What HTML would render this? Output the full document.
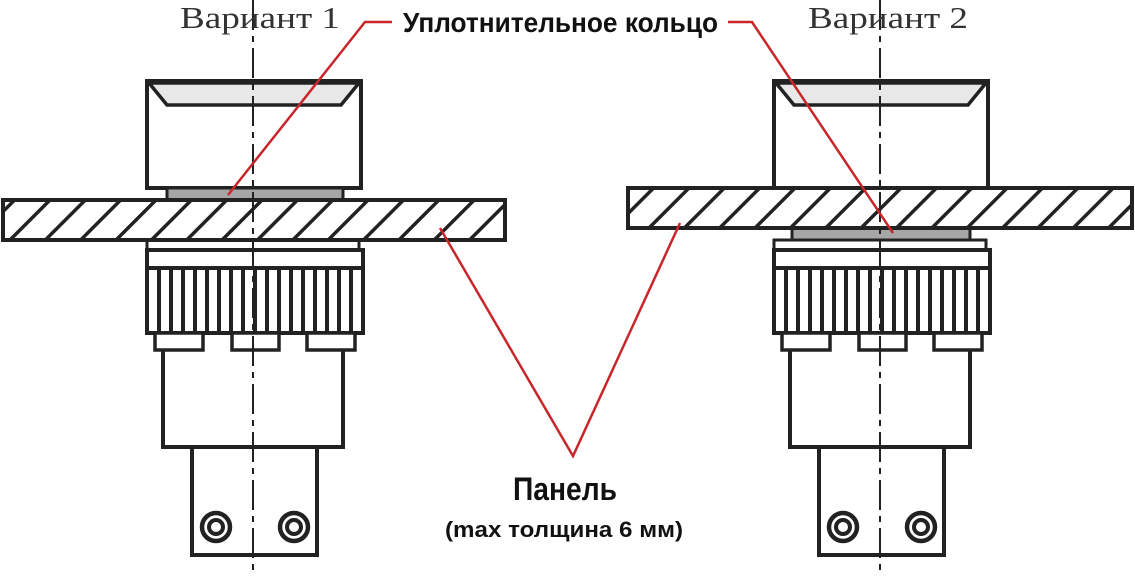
<!DOCTYPE html>
<html><head><meta charset="utf-8"><style>html,body{margin:0;padding:0;background:#fff}svg{display:block}</style></head>
<body>
<svg width="1135" height="576" viewBox="0 0 1135 576" xmlns="http://www.w3.org/2000/svg">
<defs>
<pattern id="h" patternUnits="userSpaceOnUse" width="25" height="25" patternTransform="rotate(45)">
<rect width="25" height="25" fill="#fff"/><line x1="0" y1="0" x2="0" y2="25" stroke="#222" stroke-width="7"/>
</pattern>
<g id="asm" stroke="#222" stroke-width="4" fill="#fff">
<rect x="147" y="81" width="214" height="107"/>
<polygon points="149,83 359,83 341,105 167,105" fill="#e8e8e8" stroke-width="3.5"/>
<rect x="147" y="240" width="212" height="10" stroke-width="3"/>
<rect x="147" y="250" width="216" height="18"/>
<rect x="147" y="268" width="216" height="65"/>
<g stroke-width="4">
<line x1="159" y1="268" x2="159" y2="333"/><line x1="171" y1="268" x2="171" y2="333"/><line x1="183" y1="268" x2="183" y2="333"/><line x1="195" y1="268" x2="195" y2="333"/><line x1="207" y1="268" x2="207" y2="333"/><line x1="219" y1="268" x2="219" y2="333"/><line x1="231" y1="268" x2="231" y2="333"/><line x1="243" y1="268" x2="243" y2="333"/><line x1="255" y1="268" x2="255" y2="333"/><line x1="267" y1="268" x2="267" y2="333"/><line x1="279" y1="268" x2="279" y2="333"/><line x1="291" y1="268" x2="291" y2="333"/><line x1="303" y1="268" x2="303" y2="333"/><line x1="315" y1="268" x2="315" y2="333"/><line x1="327" y1="268" x2="327" y2="333"/><line x1="339" y1="268" x2="339" y2="333"/><line x1="351" y1="268" x2="351" y2="333"/>
</g>
<path d="M163,349 V447 H343 V349" fill="#fff"/>
<rect x="155" y="333" width="48" height="17" stroke-width="3.5"/>
<rect x="232" y="333" width="47" height="17" stroke-width="3.5"/>
<rect x="307" y="333" width="48" height="17" stroke-width="3.5"/>
<rect x="192" y="447" width="125" height="108"/>
<circle cx="216" cy="527" r="14" stroke-width="4.5"/><circle cx="216" cy="527" r="7"/>
<circle cx="294" cy="527" r="14" stroke-width="4.5"/><circle cx="294" cy="527" r="7"/>
</g>
</defs>
<use href="#asm"/>
<rect x="167" y="188" width="176" height="12" fill="#a6a6a6" stroke="#222" stroke-width="3"/>
<rect x="3" y="200" width="502" height="40" fill="url(#h)" stroke="#222" stroke-width="4"/>
<line x1="253" y1="0" x2="253" y2="576" stroke="#222" stroke-width="2" stroke-dasharray="30,6,6,6"/>
<g transform="translate(627,0)">
<use href="#asm"/>
<rect x="165" y="228" width="178" height="12" fill="#a6a6a6" stroke="#222" stroke-width="3"/>
<rect x="1" y="188" width="504" height="40" fill="url(#h)" stroke="#222" stroke-width="4"/>
<line x1="253" y1="0" x2="253" y2="576" stroke="#222" stroke-width="2" stroke-dasharray="30,6,6,6"/>
</g>
<g stroke="#c8262b" stroke-width="2.5" fill="none">
<polyline points="392,22 365,22 228,195"/>
<polyline points="728,22 752,22 893,233"/>
<polyline points="440,228 573,456 680,223"/>
</g>
<g font-family="Liberation Serif, serif" font-size="31" fill="#333">
<text x="180" y="28" textLength="160" lengthAdjust="spacingAndGlyphs">Вариант 1</text>
<text x="808" y="28" textLength="160" lengthAdjust="spacingAndGlyphs">Вариант 2</text>
</g>
<g font-family="Liberation Sans, sans-serif" font-weight="bold" fill="#111">
<text x="403" y="32" font-size="28" textLength="315" lengthAdjust="spacingAndGlyphs">Уплотнительное кольцо</text>
<text x="513" y="500" font-size="32" textLength="104" lengthAdjust="spacingAndGlyphs">Панель</text>
<text x="445" y="537" font-size="22" textLength="238" lengthAdjust="spacingAndGlyphs">(max толщина 6 мм)</text>
</g>
</svg>
</body></html>
